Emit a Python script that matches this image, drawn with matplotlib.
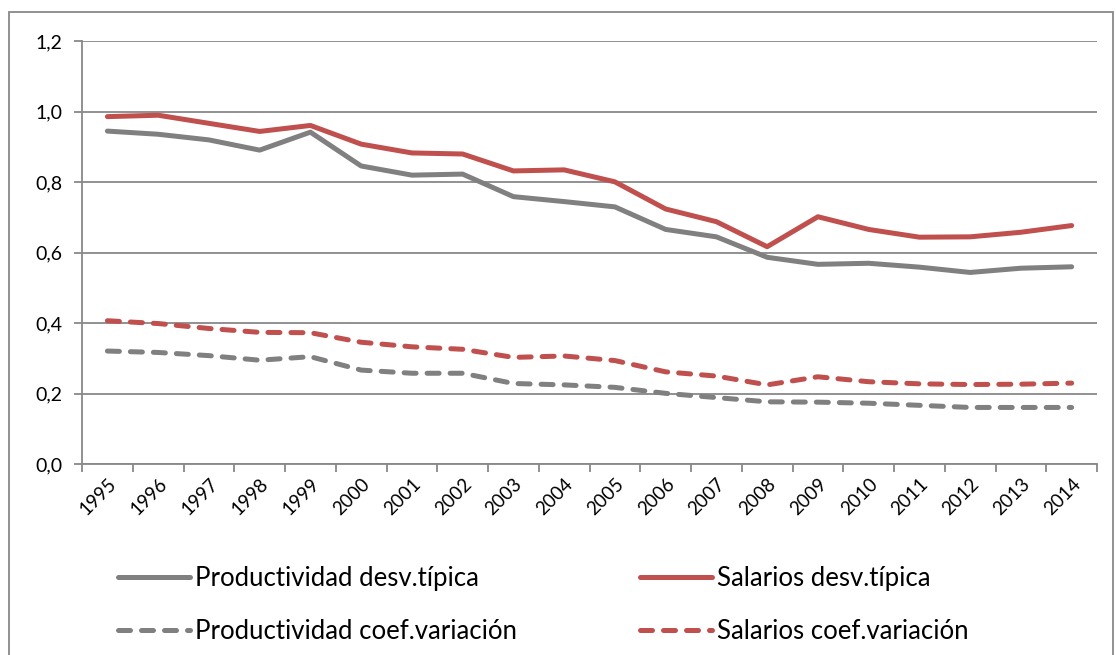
import numpy as np
import matplotlib
matplotlib.use("Agg")
import matplotlib.pyplot as plt
from matplotlib.patches import Rectangle

# --- datos ---
years = [str(y) for y in range(1995, 2015)]
prod_desv = [0.945, 0.936, 0.920, 0.891, 0.942, 0.846, 0.820, 0.823, 0.759, 0.745,
             0.730, 0.666, 0.645, 0.587, 0.567, 0.570, 0.559, 0.544, 0.556, 0.560]
sal_desv = [0.986, 0.990, 0.967, 0.944, 0.961, 0.908, 0.883, 0.880, 0.832, 0.835,
            0.801, 0.724, 0.688, 0.617, 0.702, 0.666, 0.644, 0.645, 0.658, 0.677]
prod_coef = [0.321, 0.317, 0.308, 0.295, 0.305, 0.267, 0.258, 0.258, 0.229, 0.225,
             0.218, 0.201, 0.189, 0.177, 0.176, 0.173, 0.167, 0.161, 0.161, 0.161]
sal_coef = [0.407, 0.399, 0.385, 0.374, 0.373, 0.346, 0.333, 0.326, 0.303, 0.307,
            0.294, 0.262, 0.250, 0.225, 0.248, 0.234, 0.228, 0.226, 0.227, 0.230]
yticks = [0.0, 0.2, 0.4, 0.6, 0.8, 1.0, 1.2]
ytick_labels = ["0,0", "0,2", "0,4", "0,6", "0,8", "1,0", "1,2"]

GRIS = "#808080"
ROJO = "#C0504D"
EJE = "#888888"

plt.rcParams['font.family'] = ['Lato', 'DejaVu Sans']

fig = plt.figure(figsize=(11.16, 6.55), dpi=100)
ax = fig.add_axes([0.0735, 0.2913, 0.9095, 0.6458])

x = np.arange(len(years))
lw = 3.6
guion = (2.4, 2.2)  # patrón de guiones (en múltiplos del grosor)
ax.plot(x, prod_desv, color=GRIS, lw=lw, solid_capstyle='round', label="Productividad desv.típica")
ax.plot(x, sal_desv, color=ROJO, lw=lw, solid_capstyle='round', label="Salarios desv.típica")
ax.plot(x, prod_coef, color=GRIS, lw=lw, dashes=guion, dash_capstyle='round',
        label="Productividad coef.variación")
ax.plot(x, sal_coef, color=ROJO, lw=lw, dashes=guion, dash_capstyle='round',
        label="Salarios coef.variación")

ax.set_xlim(-0.5, len(years) - 0.5)
ax.set_ylim(0, 1.2)
ax.set_yticks(yticks)
ax.set_yticklabels(ytick_labels, fontsize=14)
ax.yaxis.grid(True, color=EJE, lw=1.3)
ax.set_axisbelow(True)

# marcas entre categorías, etiquetas centradas y giradas
ax.set_xticks(np.arange(-0.5, len(years), 1.0))
ax.set_xticklabels([])
ax.set_xticks(x, minor=True)
ax.set_xticklabels(years, minor=True, rotation=45, ha='right', rotation_mode='anchor', fontsize=13.5)
ax.tick_params(axis='x', which='minor', length=0, pad=8)
ax.tick_params(axis='x', which='major', length=6, color=EJE, width=1.3, direction='out')
ax.tick_params(axis='y', length=6, color=EJE, width=1.3, direction='out', pad=8)

for s in ['top', 'right']:
    ax.spines[s].set_visible(False)
for s in ['left', 'bottom']:
    ax.spines[s].set_color(EJE)
    ax.spines[s].set_linewidth(1.3)

h, l = ax.get_legend_handles_labels()
order = [0, 2, 1, 3]
fig.legend([h[i] for i in order], [l[i] for i in order], ncol=2,
           loc='upper left', bbox_to_anchor=(0.0965, 0.152), frameon=False,
           fontsize=18.5, handlelength=2.8, handletextpad=0.2,
           columnspacing=4.8, labelspacing=1.1, borderaxespad=0)

fig.patches.append(Rectangle((9 / 1116, -0.02), 1104 / 1116, 1 - 12 / 655 + 0.02,
                             transform=fig.transFigure, fill=False,
                             edgecolor=EJE, lw=1.3))

fig.savefig("out.png", dpi=100)
